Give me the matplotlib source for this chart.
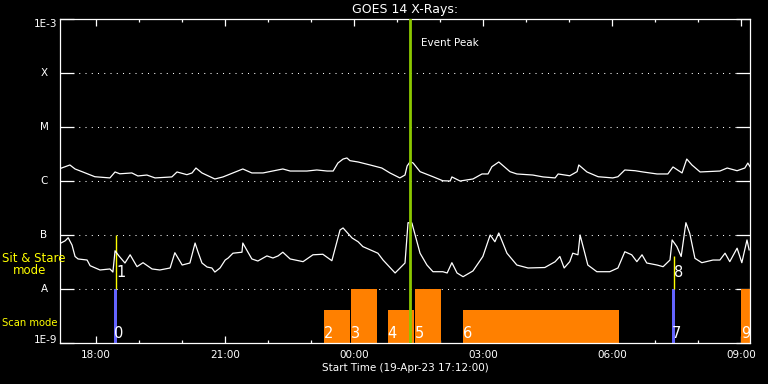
import matplotlib
matplotlib.use('Agg')
import matplotlib.pyplot as plt
import matplotlib.transforms as mtransforms
from matplotlib.ticker import NullLocator, FixedLocator, MultipleLocator

# ---- data (time in hours since 19-Apr-23 00:00 UT) ----
long_t = [17.19, 17.40, 17.52, 17.70, 17.98, 18.33, 18.45, 18.56, 18.84, 18.98,
          19.19, 19.38, 19.77, 19.89, 20.12, 20.24, 20.33, 20.47, 20.77, 20.96,
          21.19, 21.42, 21.63, 21.89, 22.35, 22.52, 22.91, 23.14, 23.38, 23.52,
          23.63, 23.75, 23.84, 23.91, 24.10, 24.38, 24.65, 24.84, 25.07, 25.19,
          25.24, 25.31, 25.38, 25.54, 25.84, 26.07, 26.24, 26.28, 26.47, 26.77,
          26.98, 27.12, 27.21, 27.37, 27.63, 27.79, 28.16, 28.40, 28.68, 28.75,
          29.02, 29.19, 29.23, 29.42, 29.68, 30.02, 30.14, 30.30, 30.54, 30.72,
          31.05, 31.30, 31.42, 31.63, 31.74, 31.86, 32.05, 32.51, 32.68, 32.91,
          33.09, 33.16, 33.21]
long_flux = [1.72e-6, 1.98e-6, 1.67e-6, 1.47e-6, 1.20e-6, 1.14e-6, 1.47e-6, 1.36e-6, 1.41e-6, 1.24e-6,
             1.29e-6, 1.14e-6, 1.19e-6, 1.47e-6, 1.31e-6, 1.41e-6, 1.74e-6, 1.41e-6, 1.09e-6, 1.19e-6,
             1.41e-6, 1.67e-6, 1.41e-6, 1.41e-6, 1.67e-6, 1.53e-6, 1.53e-6, 1.60e-6, 1.53e-6, 1.53e-6,
             2.15e-6, 2.55e-6, 2.67e-6, 2.38e-6, 2.25e-6, 1.98e-6, 1.74e-6, 1.41e-6, 1.14e-6, 1.29e-6,
             1.90e-6, 2.28e-6, 2.15e-6, 1.49e-6, 1.20e-6, 1.01e-6, 1.00e-6, 1.19e-6, 1.00e-6, 1.09e-6,
             1.35e-6, 1.35e-6, 1.84e-6, 2.25e-6, 1.49e-6, 1.35e-6, 1.29e-6, 1.19e-6, 1.14e-6, 1.35e-6,
             1.25e-6, 1.49e-6, 1.98e-6, 1.47e-6, 1.20e-6, 1.14e-6, 1.20e-6, 1.60e-6, 1.55e-6, 1.47e-6,
             1.35e-6, 1.35e-6, 1.82e-6, 1.41e-6, 2.55e-6, 1.98e-6, 1.47e-6, 1.53e-6, 1.74e-6, 1.55e-6,
             1.74e-6, 2.15e-6, 1.84e-6]

short_t = [17.19, 17.29, 17.36, 17.45, 17.52, 17.59, 17.80, 17.87, 18.10, 18.33,
           18.40, 18.45, 18.54, 18.68, 18.80, 18.96, 19.10, 19.31, 19.49, 19.73,
           19.84, 20.01, 20.19, 20.31, 20.38, 20.47, 20.59, 20.70, 20.77, 20.89,
           21.01, 21.08, 21.19, 21.40, 21.42, 21.54, 21.63, 21.77, 21.98, 22.12,
           22.24, 22.35, 22.52, 22.82, 23.05, 23.28, 23.49, 23.68, 23.75, 23.96,
           24.10, 24.21, 24.56, 24.68, 24.96, 25.19, 25.26, 25.35, 25.54, 25.70,
           25.84, 26.07, 26.17, 26.28, 26.40, 26.54, 26.77, 27.00, 27.17, 27.28,
           27.37, 27.56, 27.79, 28.05, 28.44, 28.68, 28.79, 28.89, 29.02, 29.09,
           29.21, 29.26, 29.37, 29.44, 29.65, 29.95, 30.14, 30.30, 30.46, 30.58,
           30.70, 30.81, 31.05, 31.19, 31.35, 31.40, 31.51, 31.61, 31.72, 31.81,
           31.93, 32.09, 32.35, 32.51, 32.63, 32.74, 32.91, 33.02, 33.14, 33.19]
short_flux = [7.1e-8, 7.8e-8, 8.9e-8, 6.5e-8, 4.0e-8, 3.6e-8, 3.44e-8, 2.70e-8, 2.25e-8, 2.35e-8,
              2.06e-8, 5.1e-8, 4.1e-8, 3.03e-8, 4.3e-8, 2.59e-8, 3.07e-8, 2.35e-8, 2.25e-8, 2.45e-8,
              4.7e-8, 2.78e-8, 3.03e-8, 7.1e-8, 4.8e-8, 3.03e-8, 2.55e-8, 2.45e-8, 2.06e-8, 2.45e-8,
              3.44e-8, 3.75e-8, 4.6e-8, 4.8e-8, 7.1e-8, 4.8e-8, 3.6e-8, 3.30e-8, 4.1e-8, 3.75e-8,
              4.1e-8, 4.8e-8, 3.6e-8, 3.21e-8, 4.3e-8, 4.4e-8, 3.34e-8, 1.24e-7, 1.35e-7, 8.8e-8,
              7.5e-8, 6.1e-8, 4.6e-8, 3.44e-8, 1.98e-8, 3.03e-8, 1.69e-7, 1.67e-7, 4.6e-8, 2.78e-8,
              2.09e-8, 2.09e-8, 1.98e-8, 3.07e-8, 1.98e-8, 1.69e-8, 2.16e-8, 4.0e-8, 1.0e-7, 7.5e-8,
              1.09e-7, 4.6e-8, 2.78e-8, 2.45e-8, 2.5e-8, 3.2e-8, 4.0e-8, 2.45e-8, 3.21e-8, 4.6e-8,
              4.3e-8, 1.0e-7, 4.6e-8, 2.78e-8, 2.09e-8, 2.09e-8, 2.45e-8, 4.9e-8, 4.3e-8, 3.21e-8,
              4.3e-8, 3.03e-8, 2.78e-8, 2.59e-8, 3.44e-8, 8.1e-8, 6.1e-8, 4.0e-8, 1.69e-7, 1.07e-7,
              3.7e-8, 3.07e-8, 3.44e-8, 3.44e-8, 4.6e-8, 3.21e-8, 5.7e-8, 3.07e-8, 8.1e-8, 5.3e-8]

event_peak_t = 25.31
x_start, x_end = 17.17, 33.21

xtick_hours = [18, 21, 24, 27, 30, 33]
xtick_labels = ['18:00', '21:00', '00:00', '03:00', '06:00', '09:00']
ytick_vals = [1e-9, 1e-8, 1e-7, 1e-6, 1e-5, 1e-4, 1e-3]
ytick_labels = ['1E-9', 'A', 'B', 'C', 'M', 'X', '1E-3']

# scan-mode observations (orange)
scan_ids = ['2', '3', '4', '5', '6', '9']
scan_start = [23.31, 23.93, 24.79, 25.42, 26.54, 33.00]
scan_end = [23.91, 24.53, 25.40, 26.02, 30.16, 33.21]
scan_top = [4.1e-9, 1e-8, 4.1e-9, 1e-8, 4.1e-9, 1e-8]

# blue markers
blue_ids = ['0', '7']
blue_start = [18.425, 31.40]
blue_end = [18.495, 31.47]
blue_top = [1e-8, 1e-8]

# sit & stare (yellow)
ss_ids = ['1', '8']
ss_t = [18.48, 31.45]
ss_top = [1e-7, 4.1e-8]
ss_bottom = [1e-8, 1e-8]

ORANGE = '#ff8000'
BLUE = '#6464ff'
YELLOW = '#ffff00'
GREEN = '#8cc800'

fig = plt.figure(figsize=(7.68, 3.84), dpi=100, facecolor='black')
ax = fig.add_axes([60 / 768, 41 / 384, 690 / 768, 324 / 384], facecolor='black')
ax.set_yscale('log')
ax.set_xlim(x_start, x_end)
ax.set_ylim(1e-9, 1e-3)

# grid lines
for lvl in ytick_vals[1:-1]:
    ax.axhline(lvl, color='white', lw=0.75, ls=(0, (1, 5)), zorder=1)

# scan bars
ax.bar(scan_start, [t - 1e-9 for t in scan_top], width=[e - s for s, e in zip(scan_start, scan_end)],
       bottom=1e-9, align='edge', color=ORANGE, lw=0, zorder=2)
ax.bar(blue_start, [t - 1e-9 for t in blue_top], width=[e - s for s, e in zip(blue_start, blue_end)],
       bottom=1e-9, align='edge', color=BLUE, lw=0, zorder=2)
ax.vlines(ss_t, ss_bottom, ss_top, color=YELLOW, lw=1.0, zorder=3)

# curves
ax.plot(long_t, long_flux, color='white', lw=0.9, zorder=4)
ax.plot(short_t, short_flux, color='white', lw=0.9, zorder=4)

# event peak
ax.axvline(event_peak_t, color=GREEN, lw=2.0, zorder=5)
ax.annotate('Event Peak', xy=(event_peak_t, 1), xycoords=('data', 'axes fraction'),
            xytext=(8, -17.3), textcoords='offset points', ha='left', va='center',
            color='white', fontsize=7.5)

# id labels
for sid, s in zip(scan_ids + blue_ids, scan_start + blue_start):
    ax.annotate(sid, xy=(s, 0), xycoords=('data', 'axes fraction'), xytext=(0, 3.6),
                textcoords='offset points', ha='left', va='baseline', color='white',
                fontsize=10.5, zorder=6)
for sid, t in zip(ss_ids, ss_t):
    ax.text(t, 1.67e-8, sid, ha='left', va='baseline', color='white', fontsize=10.5, zorder=6)

# axes styling
for sp in ax.spines.values():
    sp.set_color('white')
    sp.set_linewidth(0.9)

ax.xaxis.set_major_locator(FixedLocator(xtick_hours))
ax.xaxis.set_minor_locator(MultipleLocator(1))
ax.set_xticklabels(xtick_labels)
ax.tick_params(axis='x', which='both', direction='in', top=True, bottom=True, colors='white',
               labelsize=7.5, pad=5)
ax.tick_params(axis='x', which='major', length=5, width=0.9)
ax.tick_params(axis='x', which='minor', length=2.5, width=0.9)

ax.yaxis.set_major_locator(FixedLocator(ytick_vals))
ax.yaxis.set_minor_locator(NullLocator())
ax.tick_params(axis='y', which='major', direction='in', left=True, right=True, length=10,
               width=0.9, colors='white', labelleft=False)

trans = mtransforms.blended_transform_factory(ax.transAxes, ax.transData)
for v, lab in zip(ytick_vals, ytick_labels):
    if lab == '1E-3':
        ax.text(-0.0043, v, lab, transform=trans, ha='right', va='top', color='white', fontsize=7.5)
    elif lab == '1E-9':
        ax.text(-0.0043, v, lab, transform=trans, ha='right', va='baseline', color='white', fontsize=7.5)
    else:
        ax.text(-0.0232, v, lab, transform=trans, ha='center', va='center', color='white', fontsize=7.5)

# left mode labels
fig.text(2 / 768, 1 - 258.5 / 384, 'Sit & Stare', color=YELLOW, fontsize=8.5, ha='left', va='center')
fig.text(13 / 768, 1 - 271 / 384, 'mode', color=YELLOW, fontsize=8.5, ha='left', va='center')
fig.text(2 / 768, 1 - 323.5 / 384, 'Scan mode', color=YELLOW, fontsize=7.2, ha='left', va='center')

fig.text(405 / 768, 1 - 9 / 384, 'GOES 14 X-Rays:', color='white', fontsize=9, ha='center', va='center')
fig.text(405 / 768, 1 - 367.7 / 384, 'Start Time (19-Apr-23 17:12:00)', color='white', fontsize=7.5,
         ha='center', va='center')

fig.savefig('out.png', dpi=100, facecolor='black')
